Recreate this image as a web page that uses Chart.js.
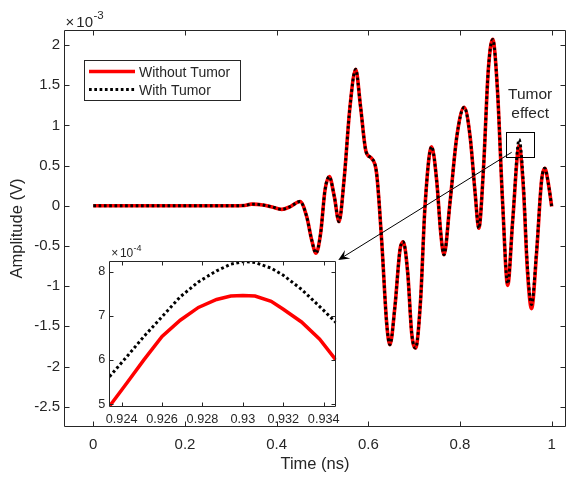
<!DOCTYPE html>
<html><head><meta charset="utf-8">
<script src="https://cdn.jsdelivr.net/npm/chart.js@4.4.1/dist/chart.umd.min.js"></script>
<style>
html,body{margin:0;padding:0;background:#fff;}
#wrap{position:relative;width:567px;height:477px;overflow:hidden;}
#main{position:absolute;left:0;top:0;}
#inset{position:absolute;left:80px;top:245px;}
</style></head><body>
<div id="wrap"><canvas id="main" width="567" height="477"></canvas><canvas id="inset" width="265" height="185"></canvas></div>
<script>
// ---------- data: main plot (Amplitude in units of 10^-3 V) ----------
const timeNs = [0,0.1,0.2,0.3,0.33,0.345,0.37,0.39,0.411,0.43,0.451,0.4655,0.4764,0.4858,0.496,0.5055,0.5148,0.5258,0.536,0.547,0.56,0.5724,0.583,0.595,0.607,0.618,0.629,0.64,0.647,0.658,0.669,0.676,0.686,0.6946,0.703,0.714,0.7236,0.738,0.749,0.758,0.765,0.778,0.793,0.809,0.822,0.833,0.841,0.851,0.8617,0.8713,0.8813,0.893,0.904,0.915,0.929,0.938,0.947,0.956,0.967,0.978,0.985,0.9926,1.0];
const withoutTumor = [0,0,0,0,0.003,0.02,0.01,-0.015,-0.045,-0.01,0.053,-0.135,-0.425,-0.59,-0.34,0.196,0.362,0.113,-0.198,0.32,1.233,1.698,1.233,0.673,0.59,0.404,-0.425,-1.46,-1.73,-1.255,-0.55,-0.447,-0.84,-1.586,-1.77,-1.17,-0.01,0.735,0.32,-0.34,-0.61,0.031,0.86,1.225,0.86,0.155,-0.28,0.445,1.69,2.07,1.48,0.031,-0.99,-0.177,0.745,0.24,-0.8,-1.28,-0.59,0.32,0.466,0.28,-0.01];
const withTumor = [0,0,0,0,0.003,0.02,0.01,-0.015,-0.045,-0.01,0.053,-0.135,-0.425,-0.59,-0.34,0.196,0.362,0.113,-0.198,0.32,1.233,1.698,1.233,0.673,0.59,0.404,-0.425,-1.46,-1.73,-1.255,-0.55,-0.447,-0.84,-1.586,-1.77,-1.17,-0.01,0.735,0.32,-0.34,-0.61,0.031,0.86,1.225,0.86,0.155,-0.28,0.445,1.69,2.07,1.48,0.031,-0.97,-0.177,0.825,0.30,-0.75,-1.23,-0.56,0.32,0.466,0.28,-0.01];
const mainXTicks = [0,0.2,0.4,0.6,0.8,1];
const mainYTicks = [-2.5,-2,-1.5,-1,-0.5,0,0.5,1,1.5,2];

// ---------- data: inset (Amplitude in units of 10^-4 V) ----------
const insetTime = [0.9234,0.92425,0.9251,0.926,0.9269,0.9278,0.9287,0.9294,0.93,0.9306,0.9314,0.932,0.9329,0.9338,0.9346];
const insetWithout = [4.95,5.47,6.0,6.53,6.9,7.19,7.37,7.45,7.46,7.45,7.33,7.15,6.86,6.47,6.0];
const insetWith = [5.62,6.07,6.53,6.98,7.43,7.77,8.02,8.17,8.23,8.21,8.08,7.92,7.6,7.21,6.85];
const insetXTicks = [0.924,0.926,0.928,0.93,0.932,0.934];
const insetYTicks = [5,6,7,8];

// ---------- annotation anchors (data coords of main plot) ----------
const tumorBox = [0.9003, 0.961, 0.603, 0.922];   // t0, t1, v0, v1
const tumorText = ['Tumor', 'effect'];
const tumorTextPos = [0.953, 1.325, 1.088];       // t, baseline v line1, line2
const arrowFrom = [0.9127, 0.665];
const arrowTo = [0.5345, -0.674];

const FONT = "'Liberation Sans', Arial, Helvetica, sans-serif";
const TXT = '#262626';
Chart.defaults.font.family = FONT;
Chart.defaults.color = TXT;

const fmt = v => String(parseFloat(Number(v).toFixed(4)));
const toPts = (xs, ys) => xs.map((x, i) => ({x: x, y: ys[i]}));
const setTicks = arr => (s => { s.ticks = arr.map(v => ({value: v})); });

function boxTicksPlugin(len, expo) {
  return {
    id: 'boxTicks',
    beforeDraw(chart) {
      if (!expo.fillWhite) return;
      const {ctx, chartArea: a} = chart;
      ctx.save(); ctx.fillStyle = '#fff';
      ctx.fillRect(a.left, a.top, a.right - a.left, a.bottom - a.top);
      ctx.restore();
    },
    afterDraw(chart) {
      const {ctx, chartArea: a, scales: {x, y}} = chart;
      ctx.save();
      ctx.strokeStyle = TXT; ctx.lineWidth = 1; ctx.setLineDash([]);
      const L = Math.round(a.left) + 0.5, R = Math.round(a.right) - 0.5;
      const T = Math.round(a.top) + 0.5, B = Math.round(a.bottom) - 0.5;
      ctx.beginPath();
      ctx.rect(L, T, R - L, B - T);
      x.ticks.forEach(t => {
        const px = Math.round(x.getPixelForValue(t.value)) + 0.5;
        ctx.moveTo(px, B); ctx.lineTo(px, B - len);
        ctx.moveTo(px, T); ctx.lineTo(px, T + len);
      });
      y.ticks.forEach(t => {
        const py = Math.round(y.getPixelForValue(t.value)) + 0.5;
        ctx.moveTo(L, py); ctx.lineTo(L + len, py);
        ctx.moveTo(R, py); ctx.lineTo(R - len, py);
      });
      ctx.stroke();
      // exponent label
      ctx.fillStyle = TXT; ctx.textBaseline = 'alphabetic'; ctx.textAlign = 'left';
      ctx.font = expo.size + 'px ' + FONT;
      ctx.fillText('\u00d7', a.left + expo.dx, a.top - expo.dy);
      ctx.fillText('10', a.left + expo.dx + expo.size * 0.72, a.top - expo.dy);
      ctx.font = expo.supSize + 'px ' + FONT;
      ctx.fillText(expo.power, a.left + expo.dx + expo.size * 1.86, a.top - expo.dy - expo.size * 0.5);
      ctx.restore();
    }
  };
}

const annotPlugin = {
  id: 'annot',
  afterDraw(chart) {
    const {ctx, scales: {x, y}} = chart;
    ctx.save();
    // tumor box
    const bx0 = Math.round(x.getPixelForValue(tumorBox[0])) + 0.5;
    const bx1 = Math.round(x.getPixelForValue(tumorBox[1])) + 0.5;
    const by0 = Math.round(y.getPixelForValue(tumorBox[3])) + 0.5;
    const by1 = Math.round(y.getPixelForValue(tumorBox[2])) + 0.5;
    ctx.strokeStyle = '#000'; ctx.lineWidth = 1; ctx.setLineDash([]);
    ctx.strokeRect(bx0, by0, bx1 - bx0, by1 - by0);
    // text
    ctx.fillStyle = TXT; ctx.font = '15.5px ' + FONT; ctx.textAlign = 'center'; ctx.textBaseline = 'alphabetic';
    ctx.fillText(tumorText[0], x.getPixelForValue(tumorTextPos[0]), y.getPixelForValue(tumorTextPos[1]));
    ctx.fillText(tumorText[1], x.getPixelForValue(tumorTextPos[0]), y.getPixelForValue(tumorTextPos[2]));
    // arrow
    const sx = x.getPixelForValue(arrowFrom[0]), sy = y.getPixelForValue(arrowFrom[1]);
    const ex = x.getPixelForValue(arrowTo[0]), ey = y.getPixelForValue(arrowTo[1]);
    const dx = ex - sx, dy = ey - sy, dl = Math.hypot(dx, dy);
    const ux = dx / dl, uy = dy / dl, nx = -uy, ny = ux;
    const len = 11, hw = 5, notch = 6.5;
    ctx.beginPath(); ctx.moveTo(sx, sy); ctx.lineTo(ex - ux * notch, ey - uy * notch);
    ctx.strokeStyle = '#000'; ctx.lineWidth = 1; ctx.stroke();
    ctx.beginPath();
    ctx.moveTo(ex, ey);
    ctx.lineTo(ex - ux * len + nx * hw, ey - uy * len + ny * hw);
    ctx.lineTo(ex - ux * notch, ey - uy * notch);
    ctx.lineTo(ex - ux * len - nx * hw, ey - uy * len - ny * hw);
    ctx.closePath(); ctx.fillStyle = '#000'; ctx.fill();
    // legend
    const lx = 84.5, ly = 60.5, lw = 156, lh = 40;
    ctx.fillStyle = '#fff'; ctx.fillRect(lx, ly, lw, lh);
    ctx.strokeStyle = TXT; ctx.lineWidth = 1; ctx.strokeRect(lx, ly, lw, lh);
    const rows = [71.5, 89.5];
    chart.data.datasets.forEach((ds, i) => {
      ctx.beginPath();
      ctx.strokeStyle = ds.borderColor; ctx.lineWidth = ds.borderWidth;
      ctx.setLineDash(ds.borderDash || []);
      ctx.moveTo(89, rows[i]); ctx.lineTo(135, rows[i]); ctx.stroke();
      ctx.setLineDash([]);
      ctx.fillStyle = TXT; ctx.font = '14px ' + FONT; ctx.textAlign = 'left'; ctx.textBaseline = 'alphabetic';
      ctx.fillText(ds.label, 139, rows[i] + 5);
    });
    ctx.restore();
  }
};

new Chart(document.getElementById('main'), {
  type: 'line',
  data: {datasets: [
    {label: 'Without Tumor', data: toPts(timeNs, withoutTumor), borderColor: '#ff0000', borderWidth: 3.6,
     pointRadius: 0, cubicInterpolationMode: 'monotone', order: 2},
    {label: 'With Tumor', data: toPts(timeNs, withTumor), borderColor: '#000000', borderWidth: 2.9,
     borderDash: [2.7, 2.6], pointRadius: 0, cubicInterpolationMode: 'monotone', order: 1}
  ]},
  options: {
    responsive: false, animation: false, events: [],
    layout: {padding: {left: 0, top: 30, right: 1, bottom: 0}},
    plugins: {legend: {display: false}, tooltip: {enabled: false}},
    scales: {
      x: {type: 'linear', min: -0.0639, max: 1.0312,
          afterBuildTicks: setTicks(mainXTicks), afterFit: s => { s.height = 50; },
          grid: {display: false, drawTicks: false}, border: {display: false},
          ticks: {padding: 9, color: TXT, font: {size: 15}, maxRotation: 0, autoSkip: false, callback: v => fmt(v)},
          title: {display: true, text: 'Time (ns)', color: TXT, font: {size: 16.5}, padding: {top: 0, bottom: 3}}},
      y: {type: 'linear', min: -2.7525, max: 2.1866,
          afterBuildTicks: setTicks(mainYTicks), afterFit: s => { s.width = 64; },
          grid: {display: false, drawTicks: false}, border: {display: false},
          ticks: {padding: 4, color: TXT, font: {size: 15}, autoSkip: false, callback: v => fmt(v)},
          title: {display: true, text: 'Amplitude (V)', color: TXT, font: {size: 16.5}, padding: {top: 8, bottom: 0}}}
    }
  },
  plugins: [boxTicksPlugin(5, {dx: 1.5, dy: 3.3, size: 15, supSize: 11.5, power: '-3', fillWhite: false}), annotPlugin]
});

new Chart(document.getElementById('inset'), {
  type: 'line',
  data: {datasets: [
    {label: 'Without Tumor', data: toPts(insetTime, insetWithout), borderColor: '#ff0000', borderWidth: 3.5,
     pointRadius: 0, tension: 0, order: 2},
    {label: 'With Tumor', data: toPts(insetTime, insetWith), borderColor: '#000000', borderWidth: 3,
     borderDash: [2.8, 2.6], pointRadius: 0, tension: 0, order: 1}
  ]},
  options: {
    responsive: false, animation: false, events: [],
    layout: {padding: {left: 0, top: 16, right: 7.3, bottom: 0}},
    plugins: {legend: {display: false}, tooltip: {enabled: false}},
    scales: {
      x: {type: 'linear', min: 0.92339, max: 0.93462,
          afterBuildTicks: setTicks(insetXTicks), afterFit: s => { s.height = 22.7; },
          grid: {display: false, drawTicks: false}, border: {display: false},
          ticks: {padding: 5, color: TXT, font: {size: 12.7}, maxRotation: 0, autoSkip: false, callback: v => fmt(v)}},
      y: {type: 'linear', min: 4.925, max: 8.243,
          afterBuildTicks: setTicks(insetYTicks), afterFit: s => { s.width = 29.3; },
          grid: {display: false, drawTicks: false}, border: {display: false},
          ticks: {padding: 4, color: TXT, font: {size: 12.7}, autoSkip: false, callback: v => fmt(v)}}
    }
  },
  plugins: [boxTicksPlugin(4, {dx: 2, dy: 4, size: 12, supSize: 9, power: '-4', fillWhite: true})]
});
</script>
</body></html>
